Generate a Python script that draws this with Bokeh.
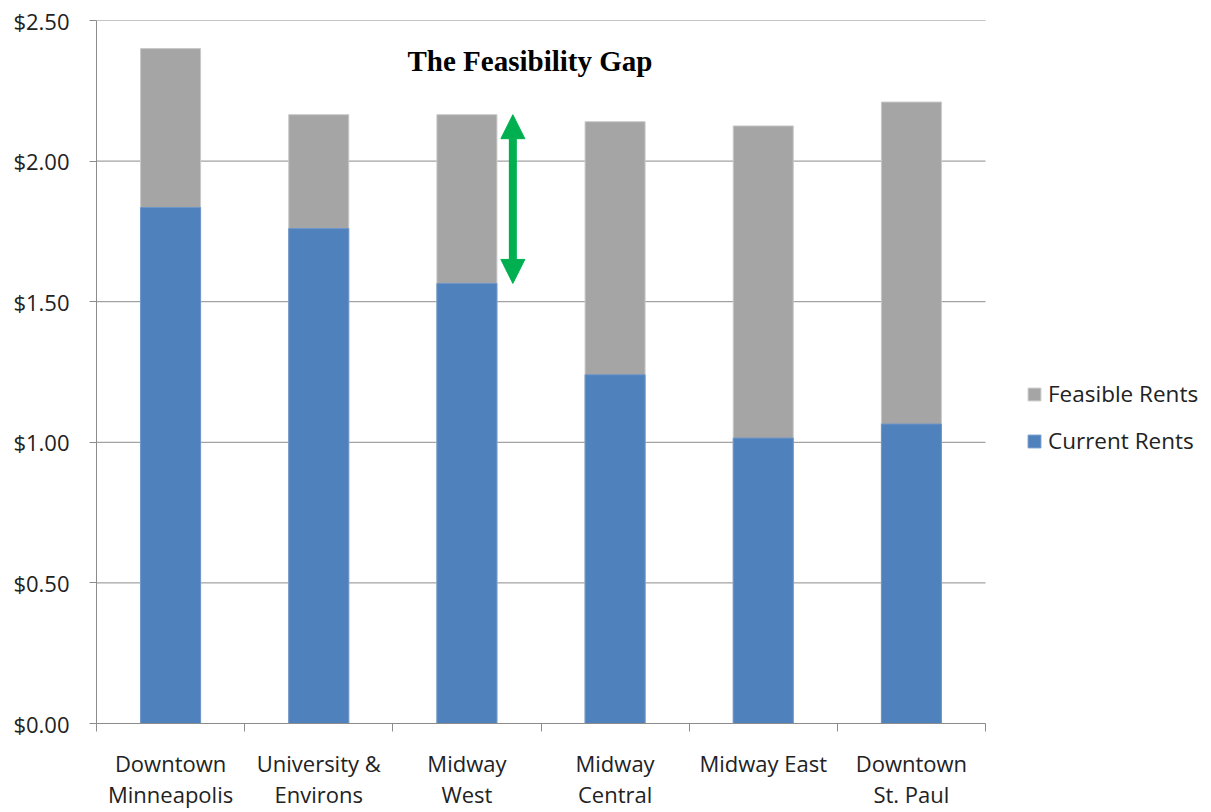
from bokeh.plotting import figure
from bokeh.models import (ColumnDataSource, FixedTicker, NumeralTickFormatter, Range1d,
                          Legend, LegendItem, Arrow, NormalHead, Label)
from bokeh.embed import file_html
from bokeh.resources import INLINE

# Submarkets and rent levels ($ per sq ft)
categories = ["Downtown\nMinneapolis", "University &\nEnvirons", "Midway\nWest",
              "Midway\nCentral", "Midway East", "Downtown\nSt. Paul"]
feasible_rents = [2.40, 2.165, 2.165, 2.14, 2.125, 2.21]
current_rents = [1.835, 1.76, 1.565, 1.24, 1.015, 1.065]
y_ticks = [0.0, 0.5, 1.0, 1.5, 2.0, 2.5]

GAP_INDEX = 2  # Midway West gap marked by the arrow

n = len(categories)
xs = [i + 0.5 for i in range(n)]
src = ColumnDataSource(dict(x=xs, feasible=feasible_rents, current=current_rents))

LABEL_FONT = "Open Sans"
GRID = "#8c8c8c"

# chart area is 889px for the categories; the frame continues to the right edge
# so that the legend can sit beside the bars
CHART_W = 889
FRAME_W = 1211 - 96
x_end = n * FRAME_W / CHART_W

p = figure(width=1211, height=812, output_backend="svg", toolbar_location=None,
           x_range=Range1d(0, x_end), y_range=Range1d(0, 2.5),
           min_border_left=96, min_border_right=0, min_border_top=20, min_border_bottom=88)
p.outline_line_color = None
p.background_fill_color = "white"
p.border_fill_color = "white"

# horizontal gridlines across the category area only
p.segment(x0=[0] * len(y_ticks), x1=[n] * len(y_ticks), y0=y_ticks, y1=y_ticks,
          line_color=GRID, line_width=1, level="underlay")

bar_w = 0.405
feas = p.vbar(x="x", top="feasible", bottom=0, width=bar_w, source=src,
              fill_color="#A5A5A5", line_color="#C8C8C8", line_width=1)
cur = p.vbar(x="x", top="current", bottom=0, width=bar_w, source=src,
             fill_color="#4F81BD", line_color="#6E96C8", line_width=1)

# y axis
p.yaxis.ticker = FixedTicker(ticks=y_ticks)
p.yaxis.formatter = NumeralTickFormatter(format="$0.00")
p.yaxis.major_label_text_font = LABEL_FONT
p.yaxis.major_label_text_font_size = "22px"
p.yaxis.major_label_text_color = "#222222"
p.yaxis.major_tick_out = 7
p.yaxis.major_tick_in = 0
p.yaxis.minor_tick_out = 0
p.yaxis.minor_tick_in = 0
p.yaxis.major_label_standoff = 20
p.yaxis.axis_line_color = GRID
p.yaxis.major_tick_line_color = GRID

# x axis: labels at bar centres, tick marks between categories
p.xaxis.bounds = (0, n)
p.xaxis.ticker = FixedTicker(ticks=xs, minor_ticks=list(range(n + 1)))
p.xaxis.major_label_overrides = {x: c for x, c in zip(xs, categories)}
p.xaxis.major_label_text_font = LABEL_FONT
p.xaxis.major_label_text_font_size = "22px"
p.xaxis.major_label_text_color = "#222222"
p.xaxis.major_label_text_line_height = 1.05
p.xaxis.major_tick_out = 0
p.xaxis.major_tick_in = 0
p.xaxis.minor_tick_out = 8
p.xaxis.minor_tick_in = 0
p.xaxis.minor_tick_line_color = GRID
p.xaxis.major_label_standoff = 16
p.xaxis.axis_line_color = GRID

p.xgrid.grid_line_color = None
p.ygrid.grid_line_color = None

# the feasibility gap arrow
arrow_x = xs[GAP_INDEX] + 0.31
p.add_layout(Arrow(x_start=arrow_x, y_start=current_rents[GAP_INDEX],
                   x_end=arrow_x, y_end=feasible_rents[GAP_INDEX],
                   line_color="#00B050", line_width=8,
                   start=NormalHead(size=24, fill_color="#00B050", line_color="#00B050", line_width=1),
                   end=NormalHead(size=24, fill_color="#00B050", line_color="#00B050", line_width=1)))

p.add_layout(Label(x=311, y=663, x_units="screen", y_units="screen",
                   text="The Feasibility Gap", text_font="Liberation Serif",
                   text_font_style="bold", text_font_size="29px", text_color="black",
                   text_baseline="alphabetic"))

legend = Legend(items=[LegendItem(label="Feasible Rents", renderers=[feas]),
                       LegendItem(label="Current Rents", renderers=[cur])],
                location=(930, 267), margin=0, padding=0, border_line_color=None,
                background_fill_alpha=0, glyph_width=16, glyph_height=16,
                label_standoff=6, label_height=20, spacing=16,
                label_text_font=LABEL_FONT, label_text_font_size="22.5px",
                label_text_color="#222222")
p.add_layout(legend)

open("out.html", "w").write(file_html(p, INLINE))
